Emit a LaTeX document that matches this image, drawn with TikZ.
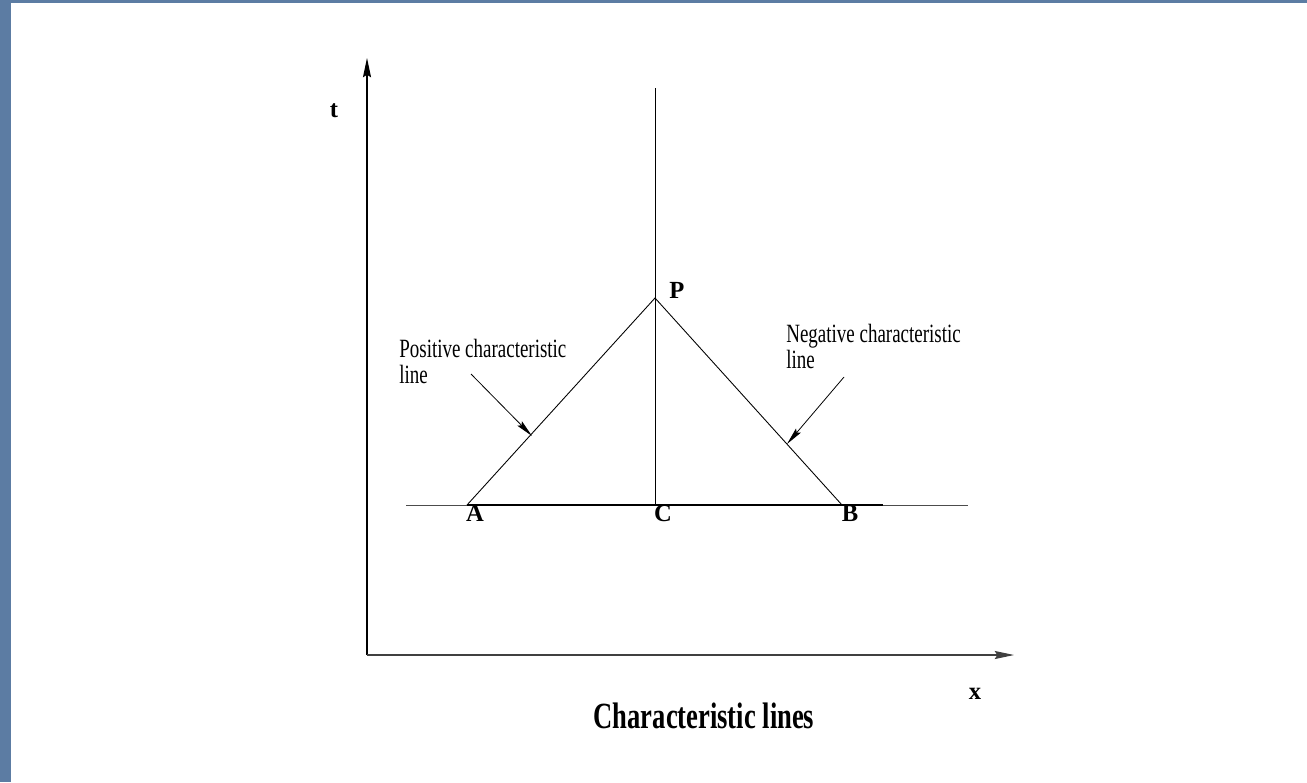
\documentclass[tikz,border=0pt]{standalone}
\usepackage{fontspec}
\setmainfont{Liberation Serif}
\newfontfamily\narrowserif[FakeStretch=0.72]{Liberation Serif}
\usetikzlibrary{arrows.meta}
\definecolor{slideblue}{RGB}{92,124,163}
\tikzset{
  axis/.style={line width=0.6pt,-{Stealth[length=11pt,width=4.6pt,inset=1.5pt]}},
  pointer/.style={line width=0.45pt,-{Stealth[length=10pt,width=3.6pt,inset=1.5pt]}},
  ptlabel/.style={font=\bfseries\fontsize{14}{16}\selectfont,inner sep=0pt,anchor=base},
  note/.style={font=\narrowserif\fontsize{15}{14.8}\selectfont,align=left,anchor=north west,inner sep=0pt}
}
\begin{document}
\begin{tikzpicture}[x=0.02cm,y=-0.02cm]
  % slide background
  \fill[slideblue] (0,0) rectangle (1307,782);
  \fill[white] (11,3) rectangle (1307,782);
  \useasboundingbox (0,0) rectangle (1307,782);
  % points
  \coordinate (O) at (367,655);
  \coordinate (Tend) at (367,58);
  \coordinate (Xend) at (1014,655);
  \coordinate (A) at (467,505);
  \coordinate (B) at (842,505);
  \coordinate (C) at (655,505);
  \coordinate (P) at (655,298);
  \coordinate (Ltop) at (655,88);
  \coordinate (Lleft) at (406,505);
  \coordinate (Lright) at (968,505);
  \coordinate (Bend) at (883,505);
  % axes
  \draw[axis] (O) -- (Tend);
  \draw[axis,black!75] (O) -- (Xend);
  % lines
  \draw[line width=0.5pt,black!70] (Lleft) -- (Lright);
  \draw[line width=0.85pt] (A) -- (Bend);
  \draw[line width=0.5pt] (Ltop) -- (C);
  \draw[line width=0.5pt] (A) -- (P) -- (B);
  % labels
  \node[ptlabel] (tlab) at (334,117) {t};
  \node[ptlabel] (xlab) at (975,699) {x};
  \node[ptlabel] (Alab) at (475,521) {A};
  \node[ptlabel] (Clab) at (663,521) {C};
  \node[ptlabel] (Blab) at (850,521) {B};
  \node[ptlabel] (Plab) at (677,298) {P};
  \node[note] (pos) at (399,339) {Positive characteristic\\line};
  \node[note] (neg) at (786,324) {Negative characteristic\\line};
  \coordinate (posfrom) at (471,374);
  \coordinate (posto) at (532,436);
  \coordinate (negfrom) at (844,377);
  \coordinate (negto) at (787,444);
  \draw[pointer] (posfrom) -- (posto);
  \draw[pointer] (negfrom) -- (negto);
  % title
  \node[font=\narrowserif\bfseries\fontsize{21}{24}\selectfont,anchor=base,inner sep=0pt] (title) at (704,728) {Characteristic lines};
\end{tikzpicture}
\end{document}
